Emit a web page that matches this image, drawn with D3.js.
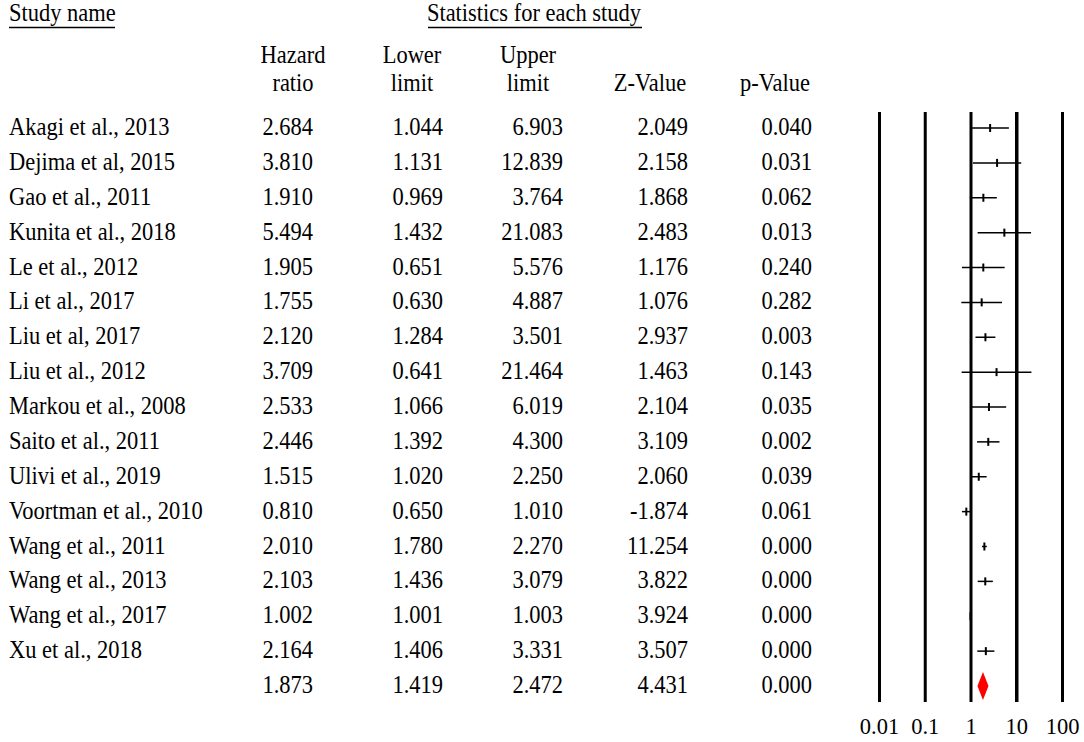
<!DOCTYPE html>
<html>
<head>
<meta charset="utf-8">
<script src="https://cdn.jsdelivr.net/npm/d3@7"></script>
<style>
  body { margin: 0; background: #fff; }
  svg text { font-family: "Liberation Serif", "DejaVu Serif", serif; font-size: 22.5px; fill: #000; }
</style>
</head>
<body>
<svg id="chart"></svg>
<script>
const studies = ['Akagi et al., 2013', 'Dejima et al, 2015', 'Gao et al., 2011', 'Kunita et al., 2018',
  'Le et al., 2012', 'Li et al., 2017', 'Liu et al, 2017', 'Liu et al., 2012', 'Markou et al., 2008',
  'Saito et al., 2011', 'Ulivi et al., 2019', 'Voortman et al., 2010', 'Wang et al., 2011',
  'Wang et al., 2013', 'Wang et al., 2017', 'Xu et al., 2018']
const hazardRatio = [2.684, 3.810, 1.910, 5.494, 1.905, 1.755, 2.120, 3.709, 2.533, 2.446, 1.515, 0.810, 2.010, 2.103, 1.002, 2.164]
const lowerLimit = [1.044, 1.131, 0.969, 1.432, 0.651, 0.630, 1.284, 0.641, 1.066, 1.392, 1.020, 0.650, 1.780, 1.436, 1.001, 1.406]
const upperLimit = [6.903, 12.839, 3.764, 21.083, 5.576, 4.887, 3.501, 21.464, 6.019, 4.300, 2.250, 1.010, 2.270, 3.079, 1.003, 3.331]
const zValue = [2.049, 2.158, 1.868, 2.483, 1.176, 1.076, 2.937, 1.463, 2.104, 3.109, 2.060, -1.874, 11.254, 3.822, 3.924, 3.507]
const pValue = [0.040, 0.031, 0.062, 0.013, 0.240, 0.282, 0.003, 0.143, 0.035, 0.002, 0.039, 0.061, 0.000, 0.000, 0.000, 0.000]
const summary = {hr: 1.873, lower: 1.419, upper: 2.472, z: 4.431, p: 0.000}
const tickValues = [0.01, 0.1, 1, 10, 100]
const tickLabels = ['0.01', '0.1', '1', '10', '100']

const width = 1084, height = 742
const svg = d3.select('#chart').attr('width', width).attr('height', height)

// helper: text slightly stretched vertically like the original export
function txt(g, x, y, s, anchor) {
  return g.append('text')
    .attr('transform', `translate(${x},${y}) scale(1,1.12)`)
    .attr('text-anchor', anchor || 'start')
    .text(s)
}

const rows = studies.map((name, i) => ({
  name, hr: hazardRatio[i], lower: lowerLimit[i], upper: upperLimit[i], z: zValue[i], p: pValue[i]
}))

const yScale = d3.scaleLinear().domain([0, rows.length]).range([128, 686])
const xScale = d3.scaleLog().domain([0.01, 100]).range([879, 1062])

// column headers
txt(svg, 9, 21, 'Study name')
svg.append('line').attr('x1', 9).attr('x2', 115).attr('y1', 27.5).attr('y2', 27.5)
  .attr('stroke', '#000').attr('stroke-width', 1.5)
txt(svg, 534, 21, 'Statistics for each study', 'middle')
svg.append('line').attr('x1', 428).attr('x2', 642).attr('y1', 27.5).attr('y2', 27.5)
  .attr('stroke', '#000').attr('stroke-width', 1.5)

const headers = [
  {x: 293, l1: 'Hazard', l2: 'ratio'},
  {x: 412, l1: 'Lower', l2: 'limit'},
  {x: 528, l1: 'Upper', l2: 'limit'},
  {x: 650, l1: '', l2: 'Z-Value'},
  {x: 775, l1: '', l2: 'p-Value'}
]
headers.forEach(h => {
  if (h.l1) txt(svg, h.x, 63, h.l1, 'middle')
  txt(svg, h.x, 91, h.l2, 'middle')
})

// numeric columns (right aligned)
const colRight = [313, 443, 563, 688, 812]
const fmt = v => v.toFixed(3)
const table = svg.append('g')
rows.forEach((d, i) => {
  const y = yScale(i) + 7
  txt(table, 9, y, d.name)
  ;[d.hr, d.lower, d.upper, d.z, d.p].forEach((v, j) => txt(table, colRight[j], y, fmt(v), 'end'))
})
;[summary.hr, summary.lower, summary.upper, summary.z, summary.p].forEach((v, j) =>
  txt(table, colRight[j], yScale(rows.length) + 7, fmt(v), 'end'))

// forest plot: reference lines via axis
const plotTop = 112, plotBottom = 702
const axis = d3.axisBottom(xScale).tickValues(tickValues).tickFormat((d, i) => tickLabels[i])
  .tickSizeInner(-(plotBottom - plotTop)).tickSizeOuter(0)
const axisG = svg.append('g').attr('transform', `translate(0,${plotBottom})`).call(axis)
axisG.select('.domain').remove()
axisG.selectAll('.tick line').attr('stroke', '#000').attr('stroke-width', d => d === 10 ? 3.5 : 3)
axisG.selectAll('.tick text').attr('y', 32).attr('dy', null)
  .attr('fill', '#000').style('font-size', '22.5px').style('font-family', '"Liberation Serif", serif')

const forest = svg.append('g')
forest.selectAll('.ci').data(rows).join('line')
  .attr('class', 'ci')
  .attr('x1', d => xScale(d.lower)).attr('x2', d => xScale(d.upper))
  .attr('y1', (d, i) => yScale(i)).attr('y2', (d, i) => yScale(i))
  .attr('stroke', '#000').attr('stroke-width', 1.5)
forest.selectAll('.pt').data(rows).join('line')
  .attr('class', 'pt')
  .attr('x1', d => xScale(d.hr)).attr('x2', d => xScale(d.hr))
  .attr('y1', (d, i) => yScale(i) - 4).attr('y2', (d, i) => yScale(i) + 4)
  .attr('stroke', '#000').attr('stroke-width', 2)

// summary diamond
const ys = yScale(rows.length)
forest.append('path')
  .attr('d', `M${xScale(summary.lower)},${ys} L${xScale(summary.hr)},${ys - 14} L${xScale(summary.upper)},${ys} L${xScale(summary.hr)},${ys + 14} Z`)
  .attr('fill', '#ff0000')
</script>
</body>
</html>
